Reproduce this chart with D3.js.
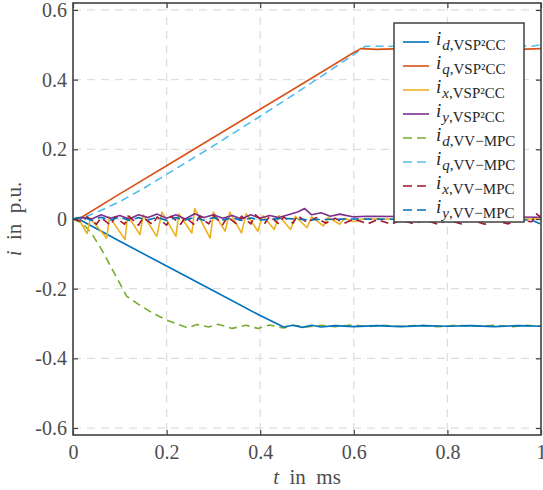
<!DOCTYPE html>
<html>
<head>
<meta charset="utf-8">
<script src="https://cdn.jsdelivr.net/npm/d3@7"></script>
<style>
  body { margin: 0; background: #fff; }
  text { font-family: "Liberation Serif", "DejaVu Serif", serif; }
</style>
</head>
<body>
<div id="chart"></div>
<script>
/* Data */
/* ==== */

var xTicks = [0, 0.2, 0.4, 0.6, 0.8, 1];
var yTicks = [-0.6, -0.4, -0.2, 0, 0.2, 0.4, 0.6];

// [t in ms, i in p.u.]
var idVSP = [[0,0],[0.015,-0.002],[0.1,-0.064],[0.2,-0.135],[0.3,-0.206],[0.4,-0.277],[0.45,-0.31],
  [0.47,-0.305],[0.49,-0.311],[0.51,-0.305],[0.53,-0.31],[0.56,-0.306],[0.6,-0.309],[0.65,-0.306],
  [0.7,-0.309],[0.75,-0.306],[0.8,-0.308],[0.85,-0.306],[0.9,-0.309],[0.95,-0.306],[1,-0.308]];

var iqVSP = [[0,0],[0.015,0.002],[0.1,0.072],[0.2,0.153],[0.3,0.234],[0.4,0.315],[0.5,0.396],
  [0.6,0.478],[0.615,0.489],[0.65,0.487],[0.7,0.489],[0.75,0.487],[0.8,0.489],[0.85,0.487],
  [0.9,0.488],[0.95,0.487],[1,0.489]];

var ixVSP = [[0,0],[0.01,0.005],[0.03,-0.042],[0.037,0.002],[0.072,-0.055],[0.078,0.006],
  [0.111,-0.059],[0.117,0.01],[0.143,-0.045],[0.15,0.012],[0.179,-0.05],[0.19,0.02],
  [0.22,-0.05],[0.226,0.015],[0.254,-0.04],[0.26,0.03],[0.293,-0.055],[0.3,0.02],
  [0.325,-0.035],[0.335,0.02],[0.36,-0.04],[0.37,0.015],[0.395,-0.035],[0.405,0.01],
  [0.43,-0.03],[0.44,0.01],[0.465,-0.03],[0.475,0.008],[0.5,-0.025],[0.51,0.006],
  [0.535,-0.02],[0.545,0.005],[0.57,-0.015],[0.58,0.002],[0.6,-0.008],[0.62,0],[1,0]];

var iyVSP = [[0,0],[0.02,0.004],[0.04,0],[0.06,0.012],[0.08,0.002],[0.1,0.01],[0.12,0],
  [0.14,0.012],[0.16,0.004],[0.18,0.014],[0.2,0.002],[0.22,0.012],[0.24,0],[0.26,0.015],
  [0.28,0.004],[0.3,0.012],[0.32,0.002],[0.34,0.01],[0.36,0],[0.38,0.012],[0.4,0.002],
  [0.42,0.01],[0.44,0.004],[0.46,0.012],[0.48,0.02],[0.495,0.03],[0.51,0.012],[0.53,0.018],
  [0.55,0.008],[0.57,0.014],[0.6,0.006],[0.63,0.008],[0.7,0.007],[0.8,0.006],[0.9,0.006],[1,0.005]];

var idVV = [[0,0],[0.02,-0.012],[0.04,-0.042],[0.06,-0.085],[0.08,-0.135],[0.1,-0.185],
  [0.115,-0.222],[0.14,-0.245],[0.17,-0.27],[0.2,-0.29],[0.225,-0.303],[0.245,-0.312],
  [0.265,-0.303],[0.29,-0.31],[0.31,-0.302],[0.34,-0.314],[0.37,-0.305],[0.395,-0.314],
  [0.42,-0.304],[0.45,-0.313],[0.47,-0.305],[0.5,-0.31],[0.53,-0.305],[0.56,-0.309],
  [0.6,-0.304],[0.63,-0.309],[0.66,-0.305],[0.7,-0.308],[0.74,-0.305],[0.78,-0.309],
  [0.82,-0.305],[0.86,-0.308],[0.9,-0.305],[0.94,-0.309],[0.97,-0.305],[1,-0.308]];

var iqVV = [[0,0],[0.03,0.008],[0.06,0.025],[0.1,0.05],[0.143,0.082],[0.2,0.128],[0.3,0.21],
  [0.4,0.295],[0.5,0.382],[0.6,0.472],[0.615,0.487],[0.625,0.496],[0.7,0.496],[0.8,0.497],
  [0.9,0.496],[0.95,0.497],[0.98,0.496],[1,0.5]];

var ixVV = [[0,0],[0.02,-0.008],[0.03,0.006],[0.05,-0.015],[0.06,0.004],[0.08,-0.018],
  [0.09,0.006],[0.11,-0.015],[0.12,0.008],[0.14,-0.018],[0.15,0.004],[0.17,-0.016],
  [0.18,0.006],[0.2,-0.018],[0.21,0.008],[0.23,-0.015],[0.24,0.005],[0.26,-0.017],
  [0.27,0.007],[0.29,-0.014],[0.3,0.01],[0.32,-0.016],[0.33,0.006],[0.35,-0.015],
  [0.36,0.008],[0.38,-0.014],[0.39,0.012],[0.41,-0.012],[0.42,0.008],[0.44,-0.014],
  [0.45,0.006],[0.47,-0.012],[0.48,0.01],[0.5,-0.01],[0.52,0.004],[0.54,-0.012],
  [0.56,0.002],[0.58,-0.012],[0.6,0],[0.63,-0.014],[0.65,-0.002],[0.68,-0.015],
  [0.7,-0.003],[0.73,-0.014],[0.75,-0.002],[0.78,-0.015],[0.8,-0.003],[0.83,-0.014],
  [0.85,-0.002],[0.88,-0.015],[0.9,-0.003],[0.93,-0.014],[0.95,-0.002],[0.98,-0.008],
  [0.99,0.015],[1,0.005]];

var iyVV = [[0,0],[0.02,0.006],[0.04,-0.004],[0.06,0.005],[0.08,-0.003],[0.1,0.006],
  [0.12,-0.004],[0.14,0.004],[0.16,-0.003],[0.18,0.005],[0.2,-0.004],[0.22,0.004],
  [0.24,-0.003],[0.26,0.005],[0.28,-0.004],[0.3,0.004],[0.32,-0.003],[0.34,0.004],
  [0.36,-0.004],[0.38,0.003],[0.4,-0.003],[0.45,0.002],[0.5,-0.002],[0.6,0],[0.7,-0.001],
  [0.8,-0.002],[0.9,-0.002],[0.98,-0.003],[1,-0.015]];

var seriesNames = ["d", "q", "x", "y", "d", "q", "x", "y"];
var seriesCtrl = ["VSP²CC", "VSP²CC", "VSP²CC", "VSP²CC", "VV−MPC", "VV−MPC", "VV−MPC", "VV−MPC"];
var seriesData = [idVSP, iqVSP, ixVSP, iyVSP, idVV, iqVV, ixVV, iyVV];
var seriesColors = ["#0072BD", "#D95319", "#EDB120", "#7E2F8E", "#77AC30", "#4DBEEE", "#A2142F", "#0072BD"];
var seriesDashed = [false, false, false, false, true, true, true, true];

/* Chart */
/* ===== */

var width = 543,
    height = 490,
    pLeft = 73, pRight = 541, pTop = 3, pBottom = 435;

var svg = d3.select("#chart").append("svg")
    .attr("width", width)
    .attr("height", height);

var x = d3.scaleLinear().domain([0, 1]).range([pLeft, pRight]);
var y = d3.scaleLinear().domain([-0.62, 0.62]).range([pBottom, pTop]);

var axisCol = "#404040", labelCol = "#4d4d4d";

// grid
svg.append("g").selectAll("line")
  .data(xTicks.filter(function(d) { return d > 0 && d < 1; }))
  .enter().append("line")
    .attr("x1", function(d) { return x(d); }).attr("x2", function(d) { return x(d); })
    .attr("y1", pTop).attr("y2", pBottom)
    .attr("stroke", "#dedede").attr("stroke-width", 1.3).attr("stroke-dasharray", "8,6");

svg.append("g").selectAll("line")
  .data(yTicks)
  .enter().append("line")
    .attr("y1", function(d) { return y(d); }).attr("y2", function(d) { return y(d); })
    .attr("x1", pLeft).attr("x2", pRight)
    .attr("stroke", "#dedede").attr("stroke-width", 1.3).attr("stroke-dasharray", "8,6");

// lines
svg.append("defs").append("clipPath").attr("id", "clip")
  .append("rect").attr("x", pLeft).attr("y", pTop)
  .attr("width", pRight - pLeft).attr("height", pBottom - pTop);

var line = d3.line()
  .x(function(d) { return x(d[0]); })
  .y(function(d) { return y(d[1]); });

var plot = svg.append("g").attr("clip-path", "url(#clip)");

// drawing order: slow dashed d/q first, then the rest
[4, 5, 0, 1, 2, 3, 6, 7].forEach(function(i) {
  plot.append("path")
    .datum(seriesData[i])
    .attr("d", line)
    .attr("fill", "none")
    .attr("stroke", seriesColors[i])
    .attr("stroke-width", 1.6)
    .attr("stroke-linejoin", "round")
    .attr("stroke-dasharray", seriesDashed[i] ? "8,5" : null);
});

// axes box with inward ticks
var tickLen = 5;
var xAxB = d3.axisBottom(x).tickValues(xTicks).tickSizeInner(-tickLen).tickSizeOuter(0)
  .tickFormat(function(d) { return d3.format("~g")(d); }).tickPadding(10);
var yAxL = d3.axisLeft(y).tickValues(yTicks).tickSizeInner(-tickLen).tickSizeOuter(0)
  .tickFormat(function(d) { return d3.format("~g")(d).replace("−", "-"); }).tickPadding(6);
var xAxT = d3.axisTop(x).tickValues(xTicks).tickSizeInner(-tickLen).tickSizeOuter(0).tickFormat("");
var yAxR = d3.axisRight(y).tickValues(yTicks).tickSizeInner(-tickLen).tickSizeOuter(0).tickFormat("");

function styleAxis(g) {
  g.select(".domain").remove();
  g.selectAll(".tick line").attr("stroke", axisCol).attr("stroke-width", 1.2);
  g.selectAll("text").attr("fill", labelCol).style("font-size", "20px")
    .style("font-family", "'Liberation Serif', serif");
}

svg.append("g").attr("transform", "translate(0," + pBottom + ")").call(xAxB).call(styleAxis);
svg.append("g").attr("transform", "translate(" + pLeft + ",0)").call(yAxL).call(styleAxis);
svg.append("g").attr("transform", "translate(0," + pTop + ")").call(xAxT).call(styleAxis);
svg.append("g").attr("transform", "translate(" + pRight + ",0)").call(yAxR).call(styleAxis);

svg.append("rect")
  .attr("x", pLeft).attr("y", pTop)
  .attr("width", pRight - pLeft).attr("height", pBottom - pTop)
  .attr("fill", "none").attr("stroke", axisCol).attr("stroke-width", 1.6);

// axis labels
var xl = svg.append("text")
  .attr("x", (pLeft + pRight) / 2).attr("y", 484)
  .attr("text-anchor", "middle").attr("fill", labelCol)
  .style("font-size", "21px");
xl.append("tspan").style("font-style", "italic").text("t");
xl.append("tspan").attr("xml:space", "preserve").text("  in  ms");

var yl = svg.append("text")
  .attr("transform", "translate(21," + ((pTop + pBottom) / 2) + ") rotate(-90)")
  .attr("text-anchor", "middle").attr("fill", labelCol)
  .style("font-size", "21px");
yl.append("tspan").style("font-style", "italic").text("i");
yl.append("tspan").attr("xml:space", "preserve").text("  in  p.u.");

// legend
var lg = svg.append("g");
lg.append("rect")
  .attr("x", 394).attr("y", 23).attr("width", 130).attr("height", 199)
  .attr("fill", "#fff").attr("stroke", axisCol).attr("stroke-width", 1.5);

seriesNames.forEach(function(n, i) {
  var cy = 42 + i * 24;
  lg.append("line")
    .attr("x1", 403).attr("x2", 429).attr("y1", cy).attr("y2", cy)
    .attr("stroke", seriesColors[i]).attr("stroke-width", 1.6)
    .attr("stroke-dasharray", seriesDashed[i] ? "9,5" : null);
  var t = lg.append("text").attr("x", 436).attr("y", cy + 3).attr("fill", "#262626")
    .style("font-size", "19px");
  t.append("tspan").style("font-style", "italic").text("i");
  t.append("tspan").attr("dx", 1).attr("dy", 5).style("font-size", "15px").style("font-style", "italic").text(n);
  t.append("tspan").style("font-size", "15px").text("," + seriesCtrl[i]);
});
</script>
</body>
</html>
